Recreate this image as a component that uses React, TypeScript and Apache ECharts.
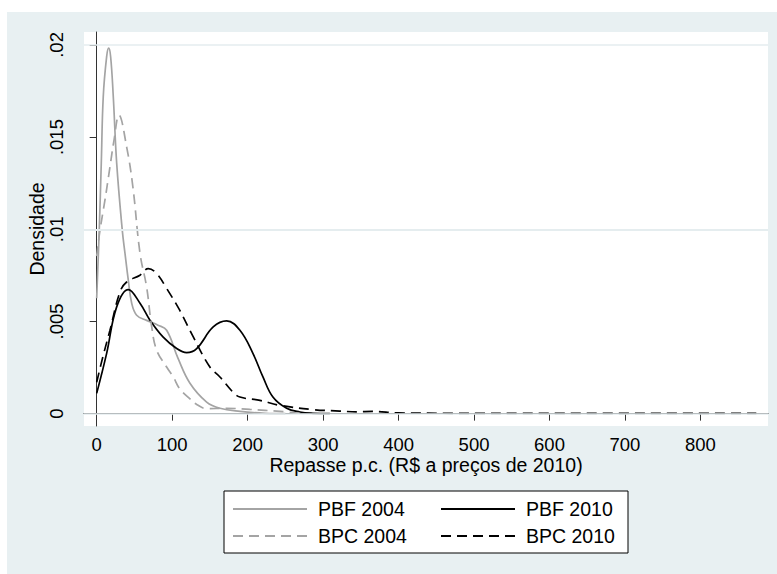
import React, { useEffect, useRef } from "react";
import * as echarts from "echarts";

const xTicks = [0, 100, 200, 300, 400, 500, 600, 700, 800];
const yTicks = [0, 0.005, 0.01, 0.015, 0.02];
const yTickLabels = ["0", ".005", ".01", ".015", ".02"];

const pbf2004X = [0, 3.4, 6.1, 8.7, 13.2, 15.9, 18.5, 22, 26.5, 33.9, 37.5, 41.9, 46.4, 53, 66.2, 81.2, 92.7, 107.7, 123.6, 145.7, 163.3, 190, 223, 250];
const pbf2004Y = [0.00626, 0.00995, 0.01359, 0.01719, 0.01936, 0.01982, 0.01936, 0.01719, 0.01359, 0.00995, 0.0087, 0.00724, 0.00599, 0.00534, 0.00506, 0.0048, 0.00452, 0.00301, 0.00165, 0.00063, 0.00029, 0.00012, 0.00002, 0];

const bpc2004X = [0, 4.4, 11, 17.6, 23, 29.5, 39.7, 48, 57.4, 66.2, 72.8, 79.5, 92.7, 101.5, 110, 123.6, 132.5, 145.7, 172, 203, 243, 269];
const bpc2004Y = [0.00854, 0.00995, 0.01159, 0.01338, 0.01484, 0.01619, 0.01447, 0.01229, 0.0087, 0.00686, 0.00474, 0.00344, 0.00253, 0.00199, 0.00135, 0.0008, 0.0005, 0.00027, 0.00029, 0.00023, 0.00012, 0.00002];

const pbf2010X = [0, 13.2, 26.5, 41.9, 57.4, 70.6, 87.8, 106, 119.2, 132.5, 154.4, 172.2, 189.8, 207, 220.3, 233.5, 251.7, 269.3, 286.5, 309];
const pbf2010Y = [0.0011, 0.00327, 0.00579, 0.00673, 0.00599, 0.00507, 0.00416, 0.00353, 0.00331, 0.00353, 0.0047, 0.00503, 0.00452, 0.00327, 0.00199, 0.0009, 0.00029, 0.00009, 0.00002, 0];

const bpc2010X = [0, 8.3, 17.6, 30.9, 39.7, 57.4, 68.3, 79.5, 92.7, 110, 128, 150, 163.3, 180.5, 189.8, 216.3, 242.8, 286.5, 322, 345, 365, 400, 470, 600, 874];
const bpc2010Y = [0.0017, 0.0031, 0.00452, 0.0066, 0.00714, 0.00751, 0.00787, 0.0076, 0.00679, 0.00561, 0.00416, 0.00253, 0.00199, 0.00117, 0.0009, 0.00072, 0.00045, 0.00022, 0.00014, 0.0001, 0.00012, 0.00004, 0.00002, 0.00001, 0.00001];

const FONT = "'Liberation Sans', Arial, sans-serif";
const GRAY = "#A4A4A4";
const BLACK = "#000000";
const BG = "#E8F0F2";

const pairs = (xs: number[], ys: number[]) => xs.map((x, i) => [x, ys[i]]);

export default function App() {
  const ref = useRef<HTMLDivElement>(null);

  useEffect(() => {
    if (!ref.current) return;
    const chart = echarts.init(ref.current, null, { renderer: "svg" });

    const lineSeries = (name: string, xs: number[], ys: number[], color: string, dashed: boolean) => ({
      name,
      type: "line",
      data: pairs(xs, ys),
      smooth: 0.4,
      showSymbol: false,
      symbol: "none",
      z: 3,
      lineStyle: { color, width: 1.7, type: dashed ? [10, 6] : "solid" },
      itemStyle: { color },
    });

    const legendBase = {
      top: 499,
      orient: "vertical",
      padding: 0,
      itemWidth: 74,
      itemHeight: 20,
      itemGap: 7,
      selectedMode: false,
      itemStyle: { opacity: 0, color: "rgba(0,0,0,0)", borderWidth: 0 },
      textStyle: { fontSize: 19.5, color: "#000", fontFamily: FONT, padding: [0, 0, 0, 6], lineHeight: 20 },
    };

    chart.setOption({
      animation: false,
      backgroundColor: "transparent",
      grid: {
        left: 84,
        top: 32,
        width: 684,
        height: 394,
        show: true,
        backgroundColor: "#ffffff",
        borderWidth: 0,
        containLabel: false,
        outerBoundsMode: "none",
      },
      xAxis: {
        type: "value",
        min: -16.8,
        max: 889.5,
        name: "Repasse p.c. (R$ a preços de 2010)",
        nameLocation: "middle",
        nameGap: 29,
        nameMoveOverlap: false,
        nameTextStyle: { fontSize: 19.5, color: "#000", fontFamily: FONT },
        axisLine: { show: true, lineStyle: { color: "#333", width: 1 } },
        axisTick: { show: true, customValues: xTicks, length: 7, lineStyle: { color: "#333", width: 1 } },
        axisLabel: { customValues: xTicks, fontSize: 18.5, color: "#000", fontFamily: FONT, margin: 9 },
        splitLine: { show: false },
      },
      yAxis: {
        type: "value",
        min: -0.00067,
        max: 0.0207,
        name: "Densidade",
        nameLocation: "middle",
        nameGap: 37,
        nameMoveOverlap: false,
        nameTextStyle: { fontSize: 19.5, color: "#000", fontFamily: FONT },
        axisLine: { show: true, lineStyle: { color: "#333", width: 1 } },
        axisTick: { show: true, customValues: yTicks, length: 7, lineStyle: { color: "#333", width: 1 } },
        axisLabel: {
          customValues: yTicks,
          rotate: 90,
          fontSize: 18.5,
          color: "#000",
          fontFamily: FONT,
          margin: 18,
          formatter: (v: number) => {
            let best = 0;
            yTicks.forEach((t, i) => {
              if (Math.abs(t - v) < Math.abs(yTicks[best] - v)) best = i;
            });
            return yTickLabels[best];
          },
        },
        splitLine: { show: false },
      },
      legend: [
        { ...legendBase, left: 232, data: ["PBF 2004", "BPC 2004"] },
        { ...legendBase, left: 440, data: ["PBF 2010", "BPC 2010"] },
      ],
      graphic: [
        {
          type: "rect",
          shape: { x: 224, y: 491, width: 404, height: 62 },
          style: { fill: "#ffffff", stroke: "#000000", lineWidth: 1 },
          z: 0,
          silent: true,
        },
      ],
      series: [
        {
          name: "grid",
          type: "line",
          data: [],
          z: 1,
          silent: true,
          markLine: {
            silent: true,
            symbol: ["none", "none"],
            label: { show: false },
            lineStyle: { color: "#E4ECEF", width: 1.6, type: "solid" },
            data: yTicks.map((v) => ({ yAxis: v })),
          },
        },
        lineSeries("PBF 2004", pbf2004X, pbf2004Y, GRAY, false),
        lineSeries("PBF 2010", pbf2010X, pbf2010Y, BLACK, false),
        lineSeries("BPC 2004", bpc2004X, bpc2004Y, GRAY, true),
        lineSeries("BPC 2010", bpc2010X, bpc2010Y, BLACK, true),
      ],
    });

    return () => chart.dispose();
  }, []);

  return (
    <div style={{ position: "absolute", left: 0, top: 0, width: 777, height: 574, background: "#ffffff" }}>
      <div style={{ position: "absolute", left: 7, top: 12, width: 770, height: 562, background: BG }} />
      <div ref={ref} style={{ position: "absolute", left: 0, top: 0, width: 777, height: 574 }} />
    </div>
  );
}
